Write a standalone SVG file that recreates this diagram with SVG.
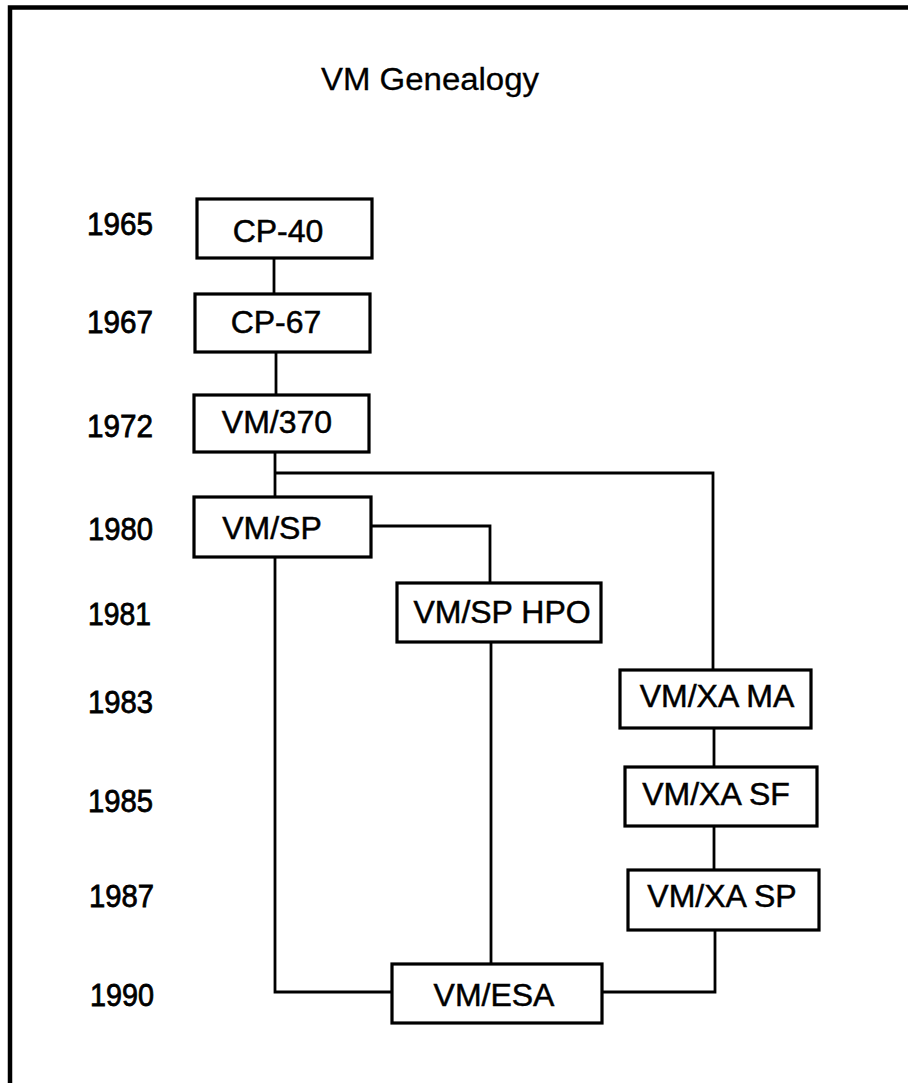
<svg xmlns="http://www.w3.org/2000/svg" width="908" height="1083" viewBox="0 0 908 1083">
<style>
.bg{fill:#ffffff}
.frame{fill:none;stroke:#000;stroke-width:4.5}
.box{fill:#fff;stroke:#000;stroke-width:3.2}
.conn{fill:none;stroke:#000;stroke-width:2.8}
.lbl{font-family:"Liberation Sans",Arial,sans-serif;font-size:32px;fill:#000;stroke:#000;stroke-width:0.5;text-anchor:middle}
.yr{font-family:"Liberation Sans",Arial,sans-serif;font-size:32px;fill:#000;stroke:#000;stroke-width:0.8}
.title{font-family:"Liberation Sans",Arial,sans-serif;font-size:31px;fill:#000;stroke:#000;stroke-width:0.3}
</style>
<rect class="bg" x="0" y="0" width="908" height="1083"/>
<path class="frame" d="M10,1083 V7.5 H908"/>
<text class="title" x="321" y="90" textLength="218" lengthAdjust="spacingAndGlyphs">VM Genealogy</text>
<g id="years">
<text class="yr" x="87" y="235" textLength="66" lengthAdjust="spacingAndGlyphs">1965</text>
<text class="yr" x="87" y="333" textLength="66" lengthAdjust="spacingAndGlyphs">1967</text>
<text class="yr" x="87" y="437" textLength="66" lengthAdjust="spacingAndGlyphs">1972</text>
<text class="yr" x="88" y="540" textLength="65" lengthAdjust="spacingAndGlyphs">1980</text>
<text class="yr" x="88" y="625" textLength="63" lengthAdjust="spacingAndGlyphs">1981</text>
<text class="yr" x="88" y="713" textLength="65" lengthAdjust="spacingAndGlyphs">1983</text>
<text class="yr" x="88" y="812" textLength="65" lengthAdjust="spacingAndGlyphs">1985</text>
<text class="yr" x="89" y="907" textLength="65" lengthAdjust="spacingAndGlyphs">1987</text>
<text class="yr" x="90" y="1006" textLength="64" lengthAdjust="spacingAndGlyphs">1990</text>
</g>
<g id="connectors">
<path class="conn" d="M274,258 V294"/>
<path class="conn" d="M276,352 V395"/>
<path class="conn" d="M275,452 V497"/>
<path class="conn" d="M275,473 H713 V670"/>
<path class="conn" d="M371,526 H490 V583"/>
<path class="conn" d="M275,557 V992 H392"/>
<path class="conn" d="M491,642 V964"/>
<path class="conn" d="M714,728 V767"/>
<path class="conn" d="M714,826 V870"/>
<path class="conn" d="M715,930 V992 H602"/>
</g>
<g id="n-cp40"><rect class="box" x="197" y="199" width="175" height="59"/><text class="lbl" x="278" y="242">CP-40</text></g>
<g id="n-cp67"><rect class="box" x="195" y="294" width="175" height="58"/><text class="lbl" x="276" y="333">CP-67</text></g>
<g id="n-vm370"><rect class="box" x="194" y="395" width="175" height="57"/><text class="lbl" x="277" y="433">VM/370</text></g>
<g id="n-vmsp"><rect class="box" x="194" y="497" width="177" height="60"/><text class="lbl" x="272" y="539">VM/SP</text></g>
<g id="n-vmsphpo"><rect class="box" x="397" y="583" width="204" height="59"/><text class="lbl" x="502" y="623">VM/SP HPO</text></g>
<g id="n-vmxama"><rect class="box" x="620" y="670" width="191" height="58"/><text class="lbl" x="717" y="707">VM/XA MA</text></g>
<g id="n-vmxasf"><rect class="box" x="625" y="767" width="192" height="59"/><text class="lbl" x="716" y="805">VM/XA SF</text></g>
<g id="n-vmxasp"><rect class="box" x="628" y="870" width="191" height="60"/><text class="lbl" x="722" y="907">VM/XA SP</text></g>
<g id="n-vmesa"><rect class="box" x="392" y="964" width="210" height="59"/><text class="lbl" x="494" y="1006">VM/ESA</text></g>
</svg>
